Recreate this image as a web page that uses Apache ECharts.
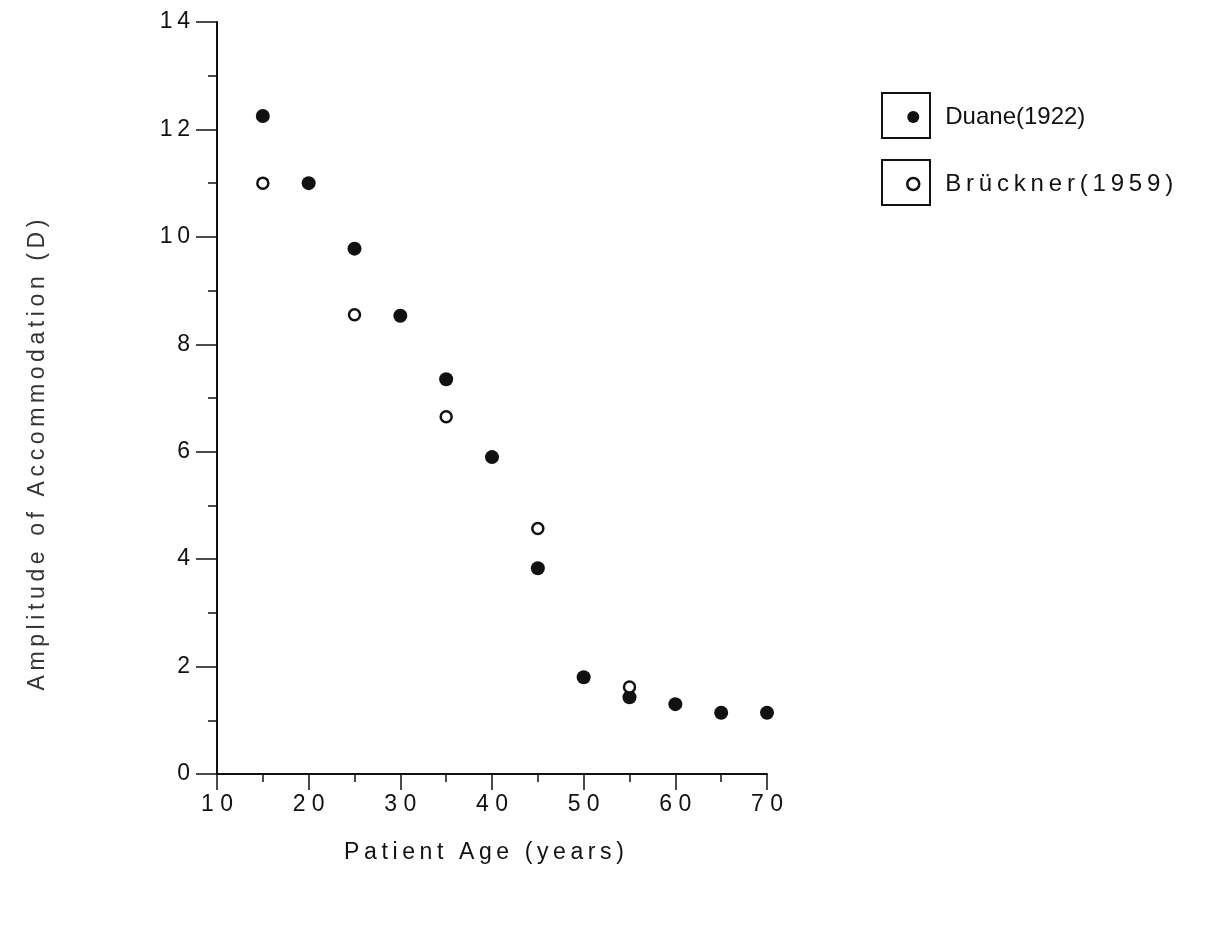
<!DOCTYPE html>
<html>
<head>
<meta charset="utf-8">
<script src="https://cdn.jsdelivr.net/npm/echarts@6/dist/echarts.min.js"></script>
<style>
  html, body { margin: 0; padding: 0; background: #fff; }
  #chart { width: 1220px; height: 929px; }
</style>
</head>
<body>
<div id="chart"></div>
<script>
// 调节幅度与年龄 - 散点图

const DUANE_AGE = [15, 20, 25, 30, 35, 40, 45, 50, 55, 60, 65, 70];
const DUANE_AMP = [12.25, 11.0, 9.78, 8.53, 7.35, 5.9, 3.83, 1.8, 1.43, 1.3, 1.14, 1.14];

const BRUCKNER_AGE = [15, 25, 35, 45, 55];
const BRUCKNER_AMP = [11.0, 8.55, 6.65, 4.57, 1.62];

const NAMES = ['Duane(1922)', 'Brückner(1959)'];
const X_TITLE = 'Patient Age (years)';
const Y_TITLE = 'Amplitude of Accommodation (D)';

const FONT = '"Liberation Sans", Arial, sans-serif';
const INK = '#111';

// 字符之间加细空格，模仿原图的字距
const thin = v => String(v).split('').join('\u2009');
const wide = v => String(v).split('').join(' ');

const pairs = (xs, ys) => xs.map((x, i) => [x, ys[i]]);

const chart = echarts.init(document.getElementById('chart'));

chart.setOption({
  animation: false,
  backgroundColor: '#fff',
  grid: { left: 217, right: 453, top: 22, bottom: 155 },
  xAxis: {
    type: 'value',
    min: 10, max: 70, interval: 10,
    name: thin(X_TITLE),
    nameLocation: 'middle',
    nameGap: 67,
    nameTextStyle: { fontFamily: FONT, fontSize: 23, color: INK, padding: [0, 16, 0, 0] },
    axisLine: { onZero: false, lineStyle: { color: INK, width: 2 } },
    axisTick: { inside: false, length: 16, lineStyle: { color: INK, width: 1.5 } },
    minorTick: { show: true, splitNumber: 2, length: 8, lineStyle: { color: INK, width: 1.5 } },
    axisLabel: { margin: 19, fontFamily: FONT, fontSize: 23, color: INK, formatter: wide },
    splitLine: { show: false },
  },
  yAxis: {
    type: 'value',
    min: 0, max: 14, interval: 2,
    name: thin(Y_TITLE),
    nameLocation: 'middle',
    nameGap: 168,
    nameTextStyle: { fontFamily: FONT, fontSize: 23, color: '#333', padding: [0, 114, 0, 0] },
    axisLine: { lineStyle: { color: INK, width: 2 } },
    axisTick: { length: 21, lineStyle: { color: INK, width: 1.5 } },
    minorTick: { show: true, splitNumber: 2, length: 9, lineStyle: { color: INK, width: 1.5 } },
    axisLabel: { margin: 27, fontFamily: FONT, fontSize: 23, color: INK, formatter: thin },
    splitLine: { show: false },
  },
  legend: {
    orient: 'vertical',
    left: 901, top: 98,
    itemWidth: 12, itemHeight: 12,
    itemGap: 39,
    selectedMode: false,
    formatter: name => name === NAMES[1] ? thin(name) : name,
    textStyle: { fontFamily: FONT, fontSize: 24, color: INK, lineHeight: 28, padding: [0, 0, 0, 21] },
    data: [
      { name: NAMES[0], icon: 'circle', itemStyle: { color: INK, borderWidth: 0 } },
      { name: NAMES[1], icon: 'circle', itemStyle: { color: '#fff', borderColor: INK, borderWidth: 2.5 } },
    ],
  },
  graphic: [
    { type: 'rect', shape: { x: 882, y: 93, width: 48, height: 45 }, style: { fill: 'none', stroke: INK, lineWidth: 2 } },
    { type: 'rect', shape: { x: 882, y: 160, width: 48, height: 45 }, style: { fill: 'none', stroke: INK, lineWidth: 2 } },
  ],
  series: [
    {
      name: NAMES[0], type: 'scatter',
      symbol: 'circle', symbolSize: 14,
      itemStyle: { color: INK, opacity: 1 },
      data: pairs(DUANE_AGE, DUANE_AMP),
      z: 2,
    },
    {
      name: NAMES[1], type: 'scatter',
      symbol: 'circle', symbolSize: 11,
      itemStyle: { color: '#fff', borderColor: INK, borderWidth: 2.5, opacity: 1 },
      data: pairs(BRUCKNER_AGE, BRUCKNER_AMP),
      z: 3,
    },
  ],
});
</script>
</body>
</html>
